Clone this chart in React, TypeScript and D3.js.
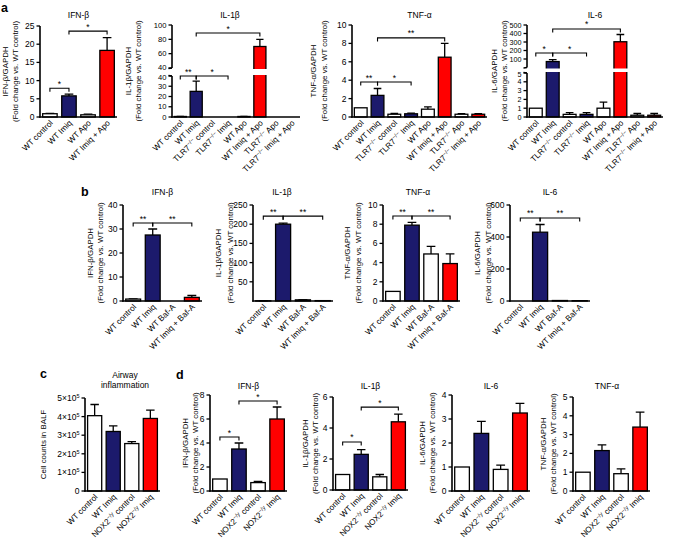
import React from 'react';
import * as d3 from 'd3';

const NAVY = '#1c1a6c';
const RED = '#ff0000';
const WHITE = '#ffffff';
const FONT = "'Liberation Sans', Arial, Helvetica, sans-serif";

// category labels ("|" marks a superscript part)
const catsA4 = ['WT control', 'WT Imiq', 'WT Apo', 'WT Imiq + Apo'];
const catsA8 = [
  'WT control', 'WT Imiq', 'TLR7|−/−| control', 'TLR7|−/−| Imiq',
  'WT Apo', 'WT Imiq + Apo', 'TLR7|−/−| Apo', 'TLR7|−/−| Imiq + Apo',
];
const catsB = ['WT control', 'WT Imiq', 'WT Baf-A', 'WT Imiq + Baf-A'];
const catsCD = ['WT control', 'WT Imiq', 'NOX2|−/y| control', 'NOX2|−/y| Imiq'];

const fills4 = [WHITE, NAVY, WHITE, RED];
const fills8 = [WHITE, NAVY, WHITE, NAVY, WHITE, RED, WHITE, RED];

// panel a
const aIfn = [0.9, 5.8, 0.6, 18.3];
const aIfnErr = [0.1, 0.5, 0.2, 3.5];
const aIl1 = [0.5, 25, 0, 0, 0.5, 70, 0, 0];
const aIl1Err = [0.1, 10, 0, 0, 0.1, 10, 0, 0];
const aTnf = [1, 2.35, 0.3, 0.35, 0.85, 6.5, 0.3, 0.3];
const aTnfErr = [0, 0.75, 0.08, 0.08, 0.25, 1.5, 0.06, 0.06];
const aIl6 = [1, 70, 0.3, 0.3, 1, 303, 0.2, 0.2];
const aIl6Err = [0, 22, 0.2, 0.2, 0.7, 85, 0.2, 0.2];

// panel b
const bIfn = [0.8, 27.5, 0, 1.5];
const bIfnErr = [0.1, 2.5, 0, 0.8];
const bIl1 = [0.5, 200, 3, 1];
const bIl1Err = [0.1, 3, 0.5, 0.2];
const bTnf = [1, 7.9, 4.9, 3.9];
const bTnfErr = [0, 0.3, 0.8, 1.0];
const bIl6 = [0, 430, 3, 2];
const bIl6Err = [0, 48, 0, 0];

// panel c
const cCells = [405000, 320000, 255000, 390000];
const cCellsErr = [60000, 30000, 10000, 45000];

// panel d
const dIfn = [1, 3.5, 0.7, 6];
const dIfnErr = [0, 0.5, 0.1, 1];
const dIl1 = [1, 2.3, 0.85, 4.4];
const dIl1Err = [0, 0.3, 0.15, 0.5];
const dIl6 = [1, 2.4, 0.9, 3.25];
const dIl6Err = [0, 0.5, 0.18, 0.4];
const dTnf = [1, 2.15, 0.92, 3.4];
const dTnfErr = [0, 0.3, 0.26, 0.8];

interface Brk { domain: [number, number]; range: [number, number]; ticks: number[] }
interface BracketSpec { a: number; b: number; at: number; label: string }
interface PanelSpec {
  title: string[]; titleX?: number; titleY: number;
  ylab: string[]; ylabX: number[];
  cats: string[]; values: number[]; errs: number[]; fills: string[];
  left: number; right: number; top: number; bottom: number;
  domain: [number, number]; ticks: number[];
  brk?: Brk; brackets: BracketSpec[];
  fmt?: (v: number) => React.ReactNode;
  tickSize?: number;
}

function CatLabel({ s }: { s: string }) {
  const parts = s.split('|');
  return (
    <>
      {parts.map((p, i) =>
        i % 2 === 1 ? (
          <tspan key={i} dy={-3} fontSize={5.8}>{p}</tspan>
        ) : (
          <tspan key={i} dy={i > 0 ? 3 : 0}>{p}</tspan>
        )
      )}
    </>
  );
}

const sciFmt = (v: number) =>
  v === 0 ? '0' : (
    <>
      {`${v / 1e5}×10`}
      <tspan dy={-3} fontSize={5.5}>5</tspan>
    </>
  );

function Panel({ p }: { p: PanelSpec }) {
  const x = d3
    .scaleBand<number>()
    .domain(d3.range(p.cats.length))
    .range([p.left, p.right])
    .paddingInner(0.24)
    .paddingOuter(0.14);
  const lower = d3.scaleLinear().domain(p.domain).range([p.bottom, p.top]);
  const upper = p.brk ? d3.scaleLinear().domain(p.brk.domain).range(p.brk.range) : null;
  const y = (v: number) => (upper && v > p.domain[1] ? upper(v) : lower(v));
  const bw = x.bandwidth();
  const cx = (i: number) => (x(i) || 0) + bw / 2;
  const axisTop = p.brk ? p.brk.range[1] : p.top;
  const ylabY = (axisTop + p.bottom) / 2;
  const titleX = p.titleX ?? (p.left + p.right) / 2;
  const fmt = p.fmt ?? ((v: number) => String(v));
  const fs = p.tickSize ?? 8.5;
  // nudge the two labels that sit on either side of an axis break
  const nudge = (v: number, isUpper: boolean) => {
    if (!p.brk) return 0;
    if (!isUpper && v === p.domain[1]) return 1;
    if (isUpper && v === p.brk.domain[0]) return -1;
    return 0;
  };

  return (
    <g>
      {p.title.map((t, i) => (
        <text key={i} x={titleX} y={p.titleY + i * 10} textAnchor="middle" fontSize={8.5}>{t}</text>
      ))}
      {p.ylab.map((t, i) => (
        <text
          key={i}
          transform={`translate(${p.left + p.ylabX[i]},${ylabY}) rotate(-90)`}
          textAnchor="middle"
          dy="0.35em"
          fontSize={7.9}
        >
          {t}
        </text>
      ))}

      {/* bars */}
      {p.values.map((v, i) => {
        const yt = y(v);
        const ye = y(v + p.errs[i]);
        const c = cx(i);
        return (
          <g key={i}>
            {p.errs[i] > 0 && (
              <path d={`M${c},${yt}V${ye}M${c - bw * 0.3},${ye}H${c + bw * 0.3}`} stroke="#000" strokeWidth={1.3} fill="none" />
            )}
            <rect x={x(i)} y={yt} width={bw} height={p.bottom - yt} fill={p.fills[i]} stroke="#000" strokeWidth={1.3} />
            {p.brk && v > p.domain[1] && (
              <rect x={(x(i) || 0) - 2} y={p.brk.range[0] + 1} width={bw + 4} height={p.top - p.brk.range[0] - 2} fill="#fff" />
            )}
          </g>
        );
      })}

      {/* y axis */}
      <line x1={p.left} x2={p.left} y1={p.bottom + 0.8} y2={p.top} stroke="#000" strokeWidth={1.6} />
      {p.ticks.map((t) => (
        <g key={`t${t}`}>
          <line x1={p.left - 3.5} x2={p.left} y1={lower(t)} y2={lower(t)} stroke="#000" strokeWidth={1.3} />
          <text x={p.left - 5.5} y={lower(t) + nudge(t, false)} dy="0.35em" textAnchor="end" fontSize={fs}>{fmt(t)}</text>
        </g>
      ))}
      {p.brk && upper && (
        <g>
          <line x1={p.left} x2={p.left} y1={p.brk.range[0]} y2={p.brk.range[1]} stroke="#000" strokeWidth={1.6} />
          <line x1={p.left - 3.5} x2={p.left} y1={p.brk.range[0] + 0.5} y2={p.brk.range[0]} stroke="#000" strokeWidth={1.3} />
          <line x1={p.left - 3.5} x2={p.left} y1={p.top - 0.5} y2={p.top} stroke="#000" strokeWidth={1.3} />
          {p.brk.ticks.map((t) => (
            <g key={`u${t}`}>
              <line x1={p.left - 3.5} x2={p.left} y1={upper(t)} y2={upper(t)} stroke="#000" strokeWidth={1.3} />
              <text x={p.left - 5.5} y={upper(t) + nudge(t, true)} dy="0.35em" textAnchor="end" fontSize={fs}>{t}</text>
            </g>
          ))}
        </g>
      )}

      {/* x axis */}
      <line x1={p.left - 0.8} x2={p.right} y1={p.bottom} y2={p.bottom} stroke="#000" strokeWidth={1.6} />
      {p.cats.map((c, i) => (
        <text
          key={`c${i}`}
          transform={`translate(${cx(i) + 3.5},${p.bottom + 6.5}) rotate(-45)`}
          textAnchor="end"
          dy="0.35em"
          fontSize={8.2}
        >
          <CatLabel s={c} />
        </text>
      ))}

      {/* significance brackets */}
      {p.brackets.map((b, i) => {
        const yb = y(b.at);
        const x1 = cx(b.a);
        const x2 = cx(b.b);
        return (
          <g key={`b${i}`}>
            <path d={`M${x1},${yb + 3.5}V${yb}H${x2}V${yb + 3.5}`} stroke="#000" strokeWidth={1.1} fill="none" />
            <text x={(x1 + x2) / 2} y={yb - 1.5} textAnchor="middle" fontSize={8.5}>{b.label}</text>
          </g>
        );
      })}
    </g>
  );
}

const ylabFold = (name: string) => [`${name}/GAPDH`, '(Fold change vs. WT control)'];

const panels: PanelSpec[] = [
  // a
  {
    title: ['IFN-β'], titleY: 18, ylab: ylabFold('IFN-β'), ylabX: [-35, -25],
    cats: catsA4, values: aIfn, errs: aIfnErr, fills: fills4,
    left: 40, right: 117, top: 26, bottom: 117, domain: [0, 25], ticks: [0, 5, 10, 15, 20, 25],
    brackets: [{ a: 0, b: 1, at: 7.9, label: '*' }, { a: 1, b: 3, at: 23.6, label: '*' }],
  },
  {
    title: ['IL-1β'], titleX: 230, titleY: 18, ylab: ylabFold('IL-1β'), ylabX: [-44, -34],
    cats: catsA8, values: aIl1, errs: aIl1Err, fills: fills8,
    left: 172, right: 300, top: 76, bottom: 117, domain: [0, 40], ticks: [0, 10, 20, 30, 40],
    brk: { domain: [40, 100], range: [68, 25], ticks: [40, 60, 80, 100] }, tickSize: 7.6,
    brackets: [
      { a: 0, b: 1, at: 40, label: '**' }, { a: 1, b: 3, at: 40, label: '*' },
      { a: 1, b: 5, at: 88.8, label: '*' },
    ],
  },
  {
    title: ['TNF-α'], titleY: 18, ylab: ylabFold('TNF-α'), ylabX: [-39, -28],
    cats: catsA8, values: aTnf, errs: aTnfErr, fills: fills8,
    left: 352, right: 487, top: 25, bottom: 117, domain: [0, 10], ticks: [0, 2, 4, 6, 8, 10],
    brackets: [
      { a: 0, b: 1, at: 3.8, label: '**' }, { a: 1, b: 3, at: 3.8, label: '*' },
      { a: 1, b: 5, at: 8.6, label: '**' },
    ],
  },
  {
    title: ['IL-6'], titleY: 18, ylab: ylabFold('IL-6'), ylabX: [-33, -23],
    cats: catsA8, values: aIl6, errs: aIl6Err, fills: fills8,
    left: 527, right: 663, top: 73, bottom: 117, domain: [0, 5], ticks: [0, 1, 2, 3, 4, 5],
    brk: { domain: [0, 500], range: [67.5, 25], ticks: [100, 200, 300, 400, 500] }, tickSize: 7.2,
    brackets: [
      { a: 0, b: 1, at: 170, label: '*' }, { a: 1, b: 3, at: 170, label: '*' },
      { a: 1, b: 5, at: 453, label: '*' },
    ],
  },
  // b
  {
    title: ['IFN-β'], titleY: 195, ylab: ylabFold('IFN-β'), ylabX: [-33, -23],
    cats: catsB, values: bIfn, errs: bIfnErr, fills: fills4,
    left: 123, right: 202, top: 205, bottom: 301, domain: [0, 40], ticks: [0, 10, 20, 30, 40],
    brackets: [{ a: 0, b: 1, at: 32.5, label: '**' }, { a: 1, b: 3, at: 32.5, label: '**' }],
  },
  {
    title: ['IL-1β'], titleX: 282, titleY: 195, ylab: ylabFold('IL-1β'), ylabX: [-35, -23],
    cats: catsB, values: bIl1, errs: bIl1Err, fills: fills4,
    left: 253, right: 333, top: 205, bottom: 301, domain: [0, 250], ticks: [50, 100, 150, 200, 250],
    brackets: [{ a: 0, b: 1, at: 221, label: '**' }, { a: 1, b: 3, at: 221, label: '**' }],
  },
  {
    title: ['TNF-α'], titleX: 418, titleY: 195, ylab: ylabFold('TNF-α'), ylabX: [-36, -25],
    cats: catsB, values: bTnf, errs: bTnfErr, fills: fills4,
    left: 383, right: 460, top: 205, bottom: 301, domain: [0, 10], ticks: [0, 2, 4, 6, 8, 10],
    brackets: [{ a: 0, b: 1, at: 8.85, label: '**' }, { a: 1, b: 3, at: 8.85, label: '**' }],
  },
  {
    title: ['IL-6'], titleY: 195, ylab: ylabFold('IL-6'), ylabX: [-33, -22],
    cats: catsB, values: bIl6, errs: bIl6Err, fills: fills4,
    left: 510, right: 590, top: 205, bottom: 301, domain: [0, 600], ticks: [0, 200, 400, 600],
    brackets: [{ a: 0, b: 1, at: 519, label: '**' }, { a: 1, b: 3, at: 519, label: '**' }],
  },
  // c
  {
    title: ['Airway', 'inflammation'], titleX: 125, titleY: 378, ylab: ['Cell counts in BALF'], ylabX: [-42],
    cats: catsCD, values: cCells, errs: cCellsErr, fills: fills4,
    left: 85, right: 160, top: 398, bottom: 491, domain: [0, 500000],
    ticks: [0, 100000, 200000, 300000, 400000, 500000], fmt: sciFmt, brackets: [],
  },
  // d
  {
    title: ['IFN-β'], titleY: 389, ylab: ylabFold('IFN-β'), ylabX: [-25, -15],
    cats: catsCD, values: dIfn, errs: dIfnErr, fills: fills4,
    left: 210, right: 287, top: 395, bottom: 491, domain: [0, 8], ticks: [0, 2, 4, 6, 8],
    brackets: [{ a: 0, b: 1, at: 4.5, label: '*' }, { a: 1, b: 3, at: 7.5, label: '*' }],
  },
  {
    title: ['IL-1β'], titleY: 389, ylab: ylabFold('IL-1β'), ylabX: [-28, -18],
    cats: catsCD, values: dIl1, errs: dIl1Err, fills: fills4,
    left: 333, right: 408, top: 397, bottom: 490, domain: [0, 6], ticks: [0, 2, 4, 6],
    brackets: [{ a: 0, b: 1, at: 3.1, label: '*' }, { a: 1, b: 3, at: 5.35, label: '*' }],
  },
  {
    title: ['IL-6'], titleY: 389, ylab: ylabFold('IL-6'), ylabX: [-30, -20],
    cats: catsCD, values: dIl6, errs: dIl6Err, fills: fills4,
    left: 452, right: 530, top: 395, bottom: 491, domain: [0, 4], ticks: [0, 1, 2, 3, 4],
    brackets: [],
  },
  {
    title: ['TNF-α'], titleX: 607, titleY: 389, ylab: ylabFold('TNF-α'), ylabX: [-30, -20],
    cats: catsCD, values: dTnf, errs: dTnfErr, fills: fills4,
    left: 573, right: 650, top: 397, bottom: 491, domain: [0, 5], ticks: [0, 1, 2, 3, 4, 5],
    brackets: [],
  },
];

const letters = [
  { t: 'a', x: 1, y: 12 },
  { t: 'b', x: 81, y: 196 },
  { t: 'c', x: 40, y: 378 },
  { t: 'd', x: 176, y: 379 },
];

export default function App() {
  return (
    <svg
      width={675}
      height={541}
      style={{ position: 'absolute', left: 0, top: 0, background: '#fff' }}
      fontFamily={FONT}
    >
      {letters.map((l) => (
        <text key={l.t} x={l.x} y={l.y} fontSize={12.5} fontWeight="bold">{l.t}</text>
      ))}
      {panels.map((p, i) => (
        <Panel key={i} p={p} />
      ))}
    </svg>
  );
}
